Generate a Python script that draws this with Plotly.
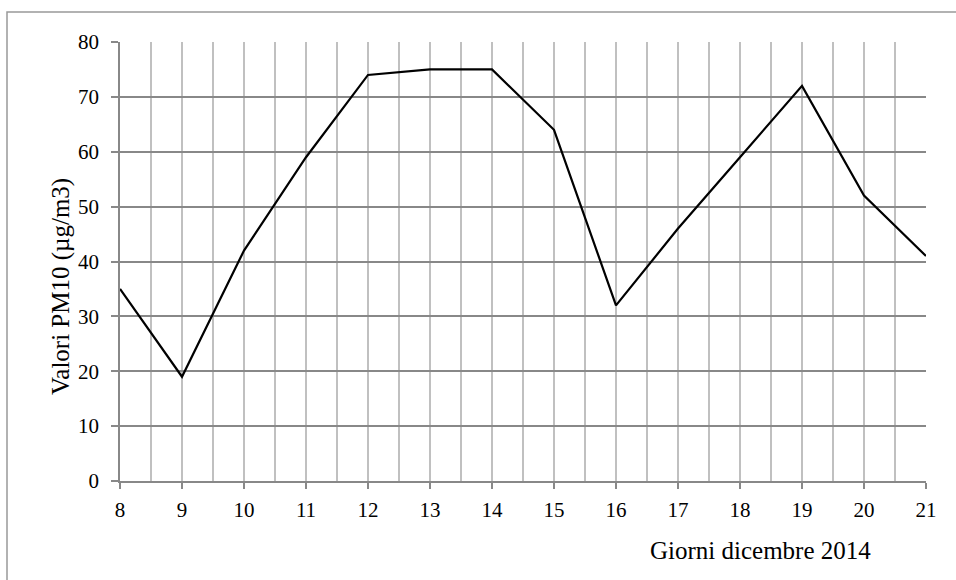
import plotly.graph_objects as go

# Daily PM10 readings, December 2014
giorni = [8, 9, 10, 11, 12, 13, 14, 15, 16, 17, 18, 19, 20, 21]
pm10 = [35, 19, 42, 59, 74, 75, 75, 64, 32, 46, 59, 72, 52, 41]
y_ticks = [0, 10, 20, 30, 40, 50, 60, 70, 80]

FONT = "Liberation Serif"
PLOT_W, PLOT_H = 806, 439

fig = go.Figure(
    go.Scatter(
        x=giorni, y=pm10, mode="lines",
        line=dict(color="black", width=2.2),
        hoverinfo="x+y",
    )
)

fig.update_layout(
    width=956, height=580,
    margin=dict(l=120, r=30, t=42, b=99),
    paper_bgcolor="white", plot_bgcolor="white",
    showlegend=False,
    font=dict(family=FONT, size=21, color="black"),
)

fig.update_xaxes(
    range=[8, 21], tickmode="array", tickvals=giorni,
    ticks="outside", ticklen=6, tickcolor="#888888", tickwidth=1.5,
    ticklabelstandoff=3,
    showgrid=True, gridcolor="#c0c0c0", gridwidth=1.5,
    minor=dict(dtick=0.5, showgrid=True, gridcolor="#c0c0c0", gridwidth=1.5),
    showline=True, linecolor="#888888", linewidth=1.5,
    zeroline=False, tickfont=dict(size=21, family=FONT),
)

fig.update_yaxes(
    range=[0, 80], tickmode="array", tickvals=y_ticks,
    ticks="outside", ticklen=7, tickcolor="#888888", tickwidth=1.5,
    ticklabelstandoff=8,
    showgrid=True, gridcolor="#888888", gridwidth=1.5,
    showline=True, linecolor="#888888", linewidth=1.5,
    zeroline=False, tickfont=dict(size=21, family=FONT),
)

# outer chart frame (runs past the right and bottom edges)
fig.add_shape(
    type="rect", xref="paper", yref="paper",
    x0=-113 / PLOT_W, x1=1.2, y0=-0.28, y1=1.0 + 30 / PLOT_H,
    line=dict(color="#999999", width=1.5), layer="below",
)

# axis titles
fig.add_annotation(
    text="Valori PM10 (µg/m3)", xref="paper", yref="paper",
    x=-59 / PLOT_W, y=(481 - 287) / PLOT_H, xanchor="center", yanchor="middle",
    textangle=-90, showarrow=False, font=dict(size=25, family=FONT),
)
fig.add_annotation(
    text="Giorni dicembre 2014", xref="paper", yref="paper",
    x=1.0 - 53 / PLOT_W, y=-69 / PLOT_H, xanchor="right", yanchor="middle",
    showarrow=False, font=dict(size=25, family=FONT),
)

fig.write_html("out.html")
